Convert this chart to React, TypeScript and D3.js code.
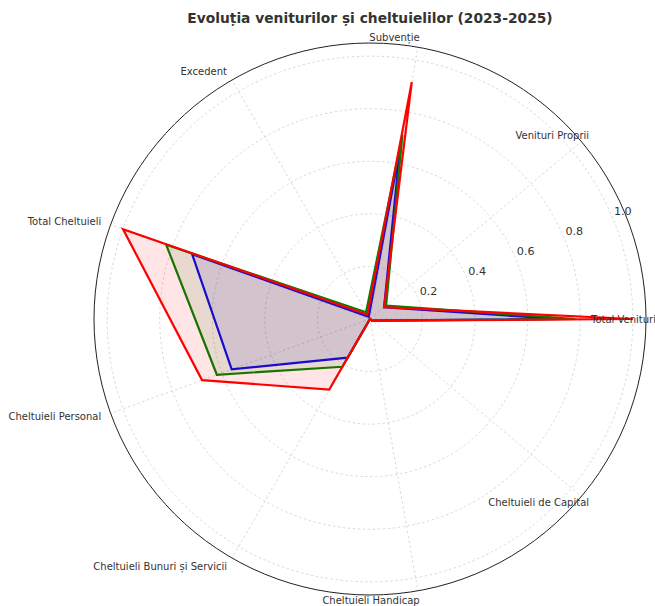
import React from "react";
import * as d3 from "d3";

const categories = [
  "Total Venituri",
  "Venituri Proprii",
  "Subvenție",
  "Excedent",
  "Total Cheltuieli",
  "Cheltuieli Personal",
  "Cheltuieli Bunuri și Servicii",
  "Cheltuieli Handicap",
  "Cheltuieli de Capital",
];
const years = ["2023", "2024", "2025"];
const values2023 = [0.72, 0.07, 0.66, 0.01, 0.72, 0.56, 0.17, 0.0, 0.01];
const values2024 = [0.78, 0.08, 0.71, 0.03, 0.825, 0.62, 0.21, 0.0, 0.01];
const values2025 = [1.0, 0.07, 0.915, 0.02, 1.0, 0.68, 0.31, 0.0, 0.01];
const colors = ["blue", "green", "red"];
const radialTicks = [0.2, 0.4, 0.6, 0.8, 1.0];
const title = "Evoluția veniturilor și cheltuielilor (2023-2025)";

const W = 655, H = 606;
const cx = 370, cy = 319;
const R = 276;
const FONT = "'DejaVu Sans', sans-serif";

export default function App() {
  const series = [values2023, values2024, values2025];
  const r = d3.scaleLinear().domain([0, 1.05]).range([0, R]);
  const n = categories.length;
  const ang = d3.scaleLinear().domain([0, n]).range([0, 2 * Math.PI]);
  const pt = (i: number, v: number): [number, number] => {
    const a = ang(i);
    return [cx + r(v) * Math.cos(a), cy - r(v) * Math.sin(a)];
  };
  const line = d3.line<[number, number]>().curve(d3.curveLinearClosed);
  const labA = (22.5 * Math.PI) / 180;
  const gridStyle = { stroke: "#c8c8c8", strokeWidth: 0.7, strokeDasharray: "2.5,2.5" };

  return (
    <svg width={W} height={H} style={{ position: "absolute", left: 0, top: 0, background: "#fff" }}>
      <text x={cx} y={18} textAnchor="middle" dominantBaseline="central"
        fontFamily={FONT} fontWeight="bold" fontSize={13.8} fill="#333">{title}</text>
      {radialTicks.map((t) => (
        <circle key={t} cx={cx} cy={cy} r={r(t)} fill="none" {...gridStyle} />
      ))}
      {categories.map((c, i) => {
        const [x, y] = pt(i, 1.05);
        return <line key={c} x1={cx} y1={cy} x2={x} y2={y} {...gridStyle} />;
      })}
      {series.map((vals, k) => {
        const pts = vals.map((v, i) => pt(i, v));
        return (
          <g key={years[k]}>
            <path d={line(pts) || ""} fill={colors[k]} fillOpacity={0.1} stroke="none" />
            <path d={line(pts) || ""} fill="none" stroke={colors[k]} strokeWidth={2.2}
              strokeLinejoin="miter" />
          </g>
        );
      })}
      <circle cx={cx} cy={cy} r={R} fill="none" stroke="#222" strokeWidth={1} />
      {radialTicks.map((t) => (
        <text key={t} x={cx + r(t) * Math.cos(labA) + 10} y={cy - r(t) * Math.sin(labA) - 7}
          textAnchor="middle" dominantBaseline="central" fontFamily={FONT} fontSize={11.2}
          fill="#333">{t.toFixed(1)}</text>
      ))}
      {categories.map((c, i) => {
        const a = ang(i);
        const rr = R + 10;
        return (
          <text key={c} x={cx + rr * Math.cos(a)} y={cy - rr * Math.sin(a)}
            textAnchor="end" dominantBaseline="central" fontFamily={FONT} fontSize={10}
            fill="#333">{c}</text>
        );
      })}
    </svg>
  );
}
